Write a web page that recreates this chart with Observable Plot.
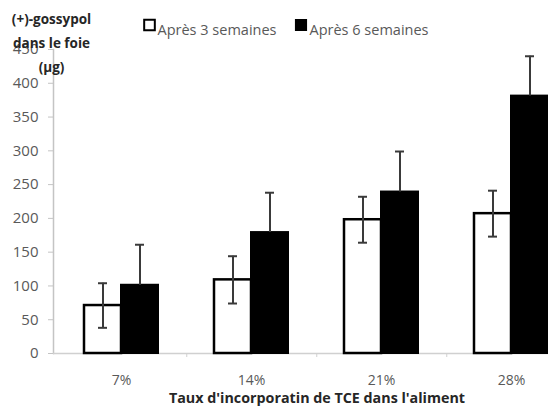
<!DOCTYPE html>
<html>
<head>
<meta charset="utf-8">
<script src="https://cdn.jsdelivr.net/npm/d3@7"></script>
<script src="https://cdn.jsdelivr.net/npm/@observablehq/plot@0.6"></script>
<style>
  html, body { margin: 0; padding: 0; background: #fff; overflow: hidden; }
  #chart { width: 548px; height: 407px; overflow: hidden; }
</style>
</head>
<body>
<div id="chart"></div>
<script>
// Incorporation rate of TCE in the feed
const categories = ["7%", "14%", "21%", "28%"];
// Sampling times
const series = ["Après 3 semaines", "Après 6 semaines"];
// (+)-gossypol in the liver (µg): means and standard deviations
const week3 = [71, 109, 198, 207];
const week3Err = [33, 35, 34, 34];
const week6 = [101, 179, 239, 381];
const week6Err = [60, 59, 60, 59];
const yTicks = [0, 50, 100, 150, 200, 250, 300, 350, 400, 450];
const yLabel = "(+)-gossypol\ndans le foie\n(µg)";
const xLabel = "Taux d'incorporatin de TCE dans l'aliment";

const rows3 = categories.map((c, i) => ({cat: c, value: week3[i], err: week3Err[i]}));
const rows6 = categories.map((c, i) => ({cat: c, value: week6[i], err: week6Err[i]}));
const gaps = categories.slice(0, -1);

const grey = "#595959";
const half = 37;      // width of one bar inside a group
const step = 130.5;   // distance between groups

const chart = Plot.plot({
  width: 548,
  height: 407,
  marginLeft: 53,
  marginRight: 0,
  marginTop: 49,
  marginBottom: 54,
  style: {fontFamily: "'Open Sans', sans-serif", background: "white", overflow: "hidden"},
  x: {domain: categories, range: [54.75, 54.75 + 4 * step], paddingInner: 0.433, paddingOuter: 0.2165},
  y: {domain: [0, 450]},
  marks: [
    Plot.frame({anchor: "left", stroke: "#c4c4c4", strokeWidth: 1.5}),
    Plot.ruleY([0], {stroke: "#d0d0d0", strokeWidth: 1.5}),
    Plot.ruleX(gaps, {x: d => d, dx: step / 2, y1: 0, y2: 0, insetBottom: -4, stroke: "#d0d0d0"}),
    Plot.axisY({ticks: yTicks, tickSize: 5, tickPadding: 10, stroke: "#c4c4c4", fill: grey, fontSize: 15, label: null}),
    Plot.axisX({tickSize: 0, tickPadding: 22, fill: grey, fontSize: 14, label: null}),
    // bars
    Plot.barY(rows3, {x: "cat", y: "value", fill: "white", stroke: "black", strokeWidth: 2.5, insetRight: half}),
    Plot.barY(rows6, {x: "cat", y: "value", fill: "black", stroke: "black", strokeWidth: 2, insetLeft: half}),
    // error bars (white bars: both halves, black bars: upper half)
    Plot.ruleX(rows3, {x: "cat", dx: -half / 2, y1: d => d.value - d.err, y2: d => d.value + d.err, stroke: "#3a3a3a", strokeWidth: 2}),
    Plot.tickY(rows3, {x: "cat", y: d => d.value + d.err, insetLeft: half / 2 - 4.5, insetRight: half * 1.5 - 4.5, stroke: "#3a3a3a", strokeWidth: 2}),
    Plot.tickY(rows3, {x: "cat", y: d => d.value - d.err, insetLeft: half / 2 - 4.5, insetRight: half * 1.5 - 4.5, stroke: "#3a3a3a", strokeWidth: 2}),
    Plot.ruleX(rows6, {x: "cat", dx: half / 2, y1: d => d.value, y2: d => d.value + d.err, stroke: "#3a3a3a", strokeWidth: 2}),
    Plot.tickY(rows6, {x: "cat", y: d => d.value + d.err, insetLeft: half * 1.5 - 4.5, insetRight: half / 2 - 4.5, stroke: "#3a3a3a", strokeWidth: 2}),
    // axis titles
    Plot.text([yLabel], {text: d => d, frameAnchor: "top-left", dx: -2, dy: -43, textAnchor: "middle", lineAnchor: "top", lineHeight: 1.8, fontSize: 13.5, fontWeight: "bold", fill: "#262626"}),
    Plot.text([xLabel], {text: d => d, frameAnchor: "bottom", dx: 16, dy: 49, fontSize: 14.3, fontWeight: "bold", fill: "#262626"}),
    // legend
    Plot.dot([series[0]], {frameAnchor: "top-left", dx: 96, dy: -24.5, symbol: "square", r: 6, fill: "white", stroke: "black", strokeWidth: 2}),
    Plot.text([series[0]], {text: d => d, frameAnchor: "top-left", dx: 104, dy: -25, textAnchor: "start", fontSize: 14.5, fill: grey}),
    Plot.dot([series[1]], {frameAnchor: "top-left", dx: 247.5, dy: -24.5, symbol: "square", r: 6, fill: "black", stroke: "black"}),
    Plot.text([series[1]], {text: d => d, frameAnchor: "top-left", dx: 256, dy: -25, textAnchor: "start", fontSize: 14.5, fill: grey})
  ]
});
document.getElementById("chart").appendChild(chart);
</script>
</body>
</html>
